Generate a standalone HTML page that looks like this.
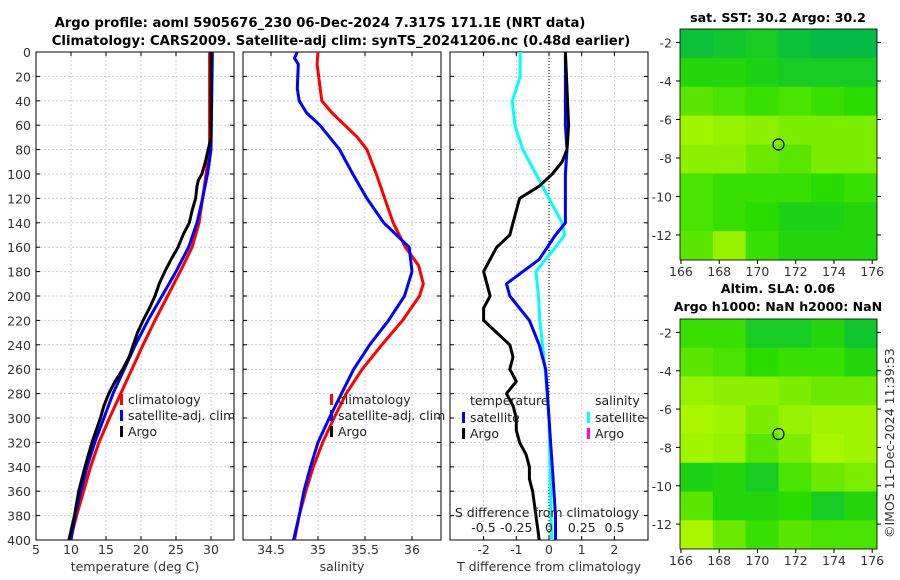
<!DOCTYPE html>
<html><head><meta charset="utf-8"><style>
html,body{margin:0;padding:0;background:#fff;}
svg{display:block;font-family:"DejaVu Sans","Liberation Sans",sans-serif;}
</style></head><body>
<svg id="c" width="900" height="580" viewBox="0 0 900 580" xmlns="http://www.w3.org/2000/svg">
<text x="320" y="27" font-size="13.2" font-weight="bold" text-anchor="middle">Argo profile: aoml 5905676_230 06-Dec-2024 7.317S 171.1E (NRT data)</text>
<text x="341" y="45" font-size="13.2" font-weight="bold" text-anchor="middle">Climatology: CARS2009. Satellite-adj clim: synTS_20241206.nc (0.48d earlier)</text>
<text x="778" y="22" font-size="12.6" font-weight="bold" text-anchor="middle">sat. SST: 30.2 Argo: 30.2</text>
<text x="778" y="293" font-size="12.6" font-weight="bold" text-anchor="middle">Altim. SLA: 0.06</text>
<text x="778" y="311" font-size="12.6" font-weight="bold" text-anchor="middle">Argo h1000: NaN h2000: NaN</text>
<text transform="translate(894,538) rotate(-90)" font-size="12.5" fill="#333" x="0" y="0">©IMOS 11-Dec-2024 11:39:53</text>
</svg>
<script>
// ---- data ----
const depthTicks=[0,20,40,60,80,100,120,140,160,180,200,220,240,260,280,300,320,340,360,380,400];
const tTicks=[5,10,15,20,25,30];
const sTicks=[34.5,35,35.5,36];
const dTTicks=[-2,-1,0,1,2];
const dSTicks=[-0.5,-0.25,0,0.25,0.5];
const dSTickLabels=["-0.5","-0.25","0","0.25","0.5"];
const tClimDepth=[0,80,100,120,140,160,180,200,220,240,260,280,300,320,340,360,380,400];
const tClim=[29.8,29.8,29.3,28.8,28.3,27.3,25.6,23.8,22.0,20.3,18.7,17.1,15.5,14.0,12.8,11.8,10.8,9.9];
const tSatDepth=[0,80,100,120,140,160,180,200,220,240,260,280,300,320,340,360,380,400];
const tSat=[30.2,30.0,29.5,28.8,28.0,26.8,25.0,23.0,21.0,19.2,17.6,16.0,14.7,13.4,12.3,11.4,10.6,10.0];
const tArgoDepth=[0,70,80,90,100,105,110,120,130,140,150,160,170,180,190,200,210,220,230,240,250,260,270,280,290,300,320,340,360,380,400];
const tArgo=[30.0,30.0,29.6,29.2,28.7,28.2,28.0,27.8,27.3,26.9,26.0,25.3,24.3,23.4,22.6,22.0,21.2,20.3,19.5,18.9,18.3,17.4,16.3,15.4,14.7,14.2,13.0,12.0,11.1,10.5,9.7];
const sClimDepth=[0,10,40,50,70,80,100,120,140,160,175,190,200,220,240,260,280,300,320,340,360,380,400];
const sClim=[35.0,34.99,35.04,35.15,35.42,35.52,35.62,35.71,35.8,35.93,36.07,36.12,36.08,35.9,35.68,35.47,35.3,35.17,35.05,34.95,34.87,34.8,34.75];
const sSatDepth=[0,5,10,30,40,50,60,80,100,120,140,160,180,200,220,240,260,280,300,320,340,360,380,400];
const sSat=[34.78,34.75,34.79,34.78,34.8,34.88,35.02,35.23,35.37,35.52,35.7,35.97,36.0,35.92,35.75,35.55,35.38,35.25,35.12,35.0,34.92,34.85,34.8,34.74];
const dTArgoDepth=[0,60,80,90,100,110,120,130,140,150,160,170,180,190,200,210,220,230,240,250,260,270,280,290,300,310,320,330,340,350,360,370,380,390,400];
const dTArgo=[0.5,0.6,0.55,0.4,0.1,-0.3,-0.9,-1.0,-1.1,-1.2,-1.6,-1.8,-2.0,-1.9,-1.8,-2.0,-2.0,-1.6,-1.2,-1.1,-1.2,-1.0,-1.3,-1.1,-1.0,-1.0,-0.9,-0.7,-0.6,-0.6,-0.5,-0.45,-0.4,-0.35,-0.3];
const dTSatDepth=[0,60,80,100,140,150,170,190,200,220,240,260,280,300,320,340,360,380,400];
const dTSat=[0.5,0.5,0.55,0.5,0.5,0.2,-0.3,-1.3,-1.2,-0.6,-0.3,-0.1,-0.05,0.0,0.05,0.1,0.15,0.2,0.2];
const dSSatDepth=[0,20,40,60,80,100,120,140,150,160,180,200,220,240,260,300,400];
const dSSat=[-0.22,-0.22,-0.28,-0.26,-0.2,-0.1,0.0,0.1,0.12,0.05,-0.1,-0.08,-0.07,-0.05,-0.03,0.0,0.02];
const lonTicks=[166,168,170,172,174,176];
const latTicks=[-2,-4,-6,-8,-10,-12];
const sstGrid=[[0.1,0.15,0.2,0.1,0.05,0.05],[0.3,0.3,0.25,0.2,0.2,0.2],[0.5,0.45,0.4,0.45,0.4,0.35],[0.75,0.7,0.65,0.6,0.6,0.6],[0.65,0.65,0.55,0.5,0.6,0.6],[0.45,0.4,0.4,0.4,0.35,0.4],[0.45,0.4,0.35,0.25,0.25,0.3],[0.5,0.7,0.4,0.3,0.3,0.3]];
const slaGrid=[[0.4,0.4,0.2,0.2,0.3,0.15],[0.5,0.45,0.35,0.4,0.4,0.3],[0.7,0.65,0.65,0.6,0.55,0.55],[0.8,0.75,0.6,0.7,0.75,0.75],[0.75,0.7,0.5,0.6,0.8,0.75],[0.25,0.3,0.2,0.45,0.55,0.6],[0.5,0.3,0.3,0.35,0.2,0.3],[0.8,0.55,0.4,0.5,0.45,0.45]];
const argoLon=171.1, argoLat=-7.3;

const NS="http://www.w3.org/2000/svg";
const svg=document.getElementById('c');
function mk(tag,attrs,parent){const e=document.createElementNS(NS,tag);for(const k in attrs)e.setAttribute(k,attrs[k]);(parent||svg).appendChild(e);return e;}
const Y0=52,Y1=540;
const yD=d=>Y0+(Y1-Y0)*d/400;
function panel(x0,x1,xf,ticks,labels,name,xlabel){
  const g=mk('g',{});
  
  
  ticks.forEach(t=>{const x=xf(t);const l=mk('line',{x1:x,x2:x,y1:Y0,y2:Y1,stroke:'#c8cce8','stroke-dasharray':'2,2','stroke-width':1},g);
    mk('line',{x1:x,x2:x,y1:Y1,y2:Y1-4,stroke:'#000'},g);mk('line',{x1:x,x2:x,y1:Y0,y2:Y0+4,stroke:'#000'},g);});
  depthTicks.forEach(d=>{const y=yD(d);const l=mk('line',{x1:x0,x2:x1,y1:y,y2:y,stroke:'#c8cce8','stroke-dasharray':'2,2','stroke-width':1},g);
    mk('line',{x1:x0,x2:x0+4,y1:y,y2:y,stroke:'#000'},g);mk('line',{x1:x1,x2:x1-4,y1:y,y2:y,stroke:'#000'},g);});
  if(labels){ticks.forEach((t,i)=>{const tx=mk('text',{x:xf(t),y:554,'font-size':12.5,'text-anchor':'middle',fill:'#333'},g);tx.textContent=labels[i];});}
  const xl=mk('text',{x:(x0+x1)/2,y:571,'font-size':12.5,'text-anchor':'middle',fill:'#333'},g);xl.textContent=xlabel;
  
  const fr=mk('rect',{x:x0,y:Y0,width:x1-x0,height:Y1-Y0,fill:'none',stroke:'#000','stroke-width':1},g);
  
  return g;
}
function line(xs,ds,xf,color,name,w){
  const p=mk('polyline',{points:xs.map((v,i)=>xf(v).toFixed(1)+','+yD(ds[i]).toFixed(1)).join(' '),fill:'none',stroke:color,'stroke-width':w||3,'stroke-linejoin':'round'});
  
}
function leg(x,y,color,label,name){
  mk('rect',{x:x,y:y-9,width:3,height:11,fill:color});
  const t=mk('text',{x:x+8,y:y+1,'font-size':12.5,fill:'#222'});t.textContent=label;
  
}
depthTicks.forEach(d=>{const t=mk('text',{x:31,y:yD(d)+5,'font-size':12.5,'text-anchor':'end',fill:'#333'});t.textContent=d;
  });
const xT=v=>36+(v-5)*7;
panel(36,234,xT,tTicks,tTicks.map(String),'temperature-panel','temperature (deg C)');
line(tClim,tClimDepth,xT,'#ff0000','temp-climatology-line');
line(tSat,tSatDepth,xT,'#0000ff','temp-satellite-line');
line(tArgo,tArgoDepth,xT,'#000000','temp-argo-line');
leg(120,403,'#ff0000','climatology','legend-climatology');
leg(120,419,'#0000ff','satellite-adj. clim','legend-satellite');
leg(120,435,'#000000','Argo','legend-argo');
const xS=v=>271+(v-34.5)*94;
panel(243,441,xS,sTicks,["34.5","35","35.5","36"],'salinity-panel','salinity');
line(sClim,sClimDepth,xS,'#ff0000','sal-climatology-line');
line(sSat,sSatDepth,xS,'#0000ff','sal-satellite-line');
leg(330,403,'#ff0000','climatology','legend-climatology-2');
leg(330,419,'#0000ff','satellite-adj. clim','legend-satellite-2');
leg(330,435,'#000000','Argo','legend-argo-2');
const xDT=v=>549+v*32.7;
const xDS=v=>549+v*131;
panel(450,648,xDT,dTTicks,dTTicks.map(String),'difference-panel','T difference from climatology');
mk('line',{x1:549,x2:549,y1:Y0,y2:Y1,stroke:'#000','stroke-dasharray':'1,2'});
line(dSSat,dSSatDepth,xDS,'#00ffff','sal-diff-satellite-line');
line(dTSat,dTSatDepth,xDT,'#0000ff','temp-diff-satellite-line');
line(dTArgo,dTArgoDepth,xDT,'#000000','temp-diff-argo-line');
dSTicks.forEach((v,i)=>{const t=mk('text',{x:xDS(v),y:532,'font-size':12.5,'text-anchor':'middle',fill:'#222'});t.textContent=dSTickLabels[i];
  });
{const t=mk('text',{x:547,y:517,'font-size':12.5,'text-anchor':'middle',fill:'#222'});t.textContent='S difference from climatology';
 }
{const t=mk('text',{x:470,y:405,'font-size':12.5,fill:'#222'});t.textContent='temperature';}
{const t=mk('text',{x:595,y:405,'font-size':12.5,fill:'#222'});t.textContent='salinity';}
leg(462,421,'#0000ff','satellite','legend-temp-satellite');
leg(462,437,'#000000','Argo','legend-temp-argo');
leg(587,421,'#00ffff','satellite','legend-sal-satellite');
leg(587,437,'#ff00ff','Argo','legend-sal-argo');
function color(v){const stops=[[0,[0,180,80]],[0.35,[40,220,0]],[0.65,[140,240,0]],[1,[210,255,0]]];
  for(let i=1;i<stops.length;i++){if(v<=stops[i][0]){const a=stops[i-1],b=stops[i],f=(v-a[0])/(b[0]-a[0]);return 'rgb('+a[1].map((c,k)=>Math.round(c+(b[1][k]-c)*f)).join(',')+')';}}return 'rgb(210,255,0)';}
function map(y0,y1,grid,name){
  const x0=680,x1=877;
  const lonF=l=>x0+(l-165.95)*(x1-x0)/(176.25-165.95);
  const latF=l=>y0+(-1.3-l)*(y1-y0)/12.0;
  const g=mk('g',{});
  const rows=grid.length,cols=grid[0].length,cw=(x1-x0)/cols,ch=(y1-y0)/rows;
  grid.forEach((r,i)=>r.forEach((v,j)=>{const c=mk('rect',{x:x0+j*cw,y:y0+i*ch,width:cw+0.5,height:ch+0.5,fill:color(v)},g);
    }));
  mk('rect',{x:x0,y:y0,width:x1-x0,height:y1-y0,fill:'none',stroke:'#000','stroke-width':0.8},g);
  lonTicks.forEach(l=>{const x=lonF(l);mk('line',{x1:x,x2:x,y1:y1,y2:y1+4,stroke:'#000'},g);
    const t=mk('text',{x:x,y:y1+16,'font-size':12.5,'text-anchor':'middle',fill:'#333'},g);t.textContent=l;});
  latTicks.forEach(l=>{const y=latF(l);mk('line',{x1:x0,x2:x0-4,y1:y,y2:y,stroke:'#000'},g);mk('line',{x1:x1,x2:x1+4,y1:y,y2:y,stroke:'#000'},g);
    const t=mk('text',{x:x0-8,y:y+5,'font-size':12.5,'text-anchor':'end',fill:'#333'},g);t.textContent=l;});
  const m=mk('circle',{cx:lonF(argoLon),cy:latF(argoLat),r:5.5,fill:'none',stroke:'#000','stroke-width':1.2},g);
  
}
map(29,260,sstGrid,'sst-map');
map(319,549,slaGrid,'sla-map');
</script>
</body></html>
